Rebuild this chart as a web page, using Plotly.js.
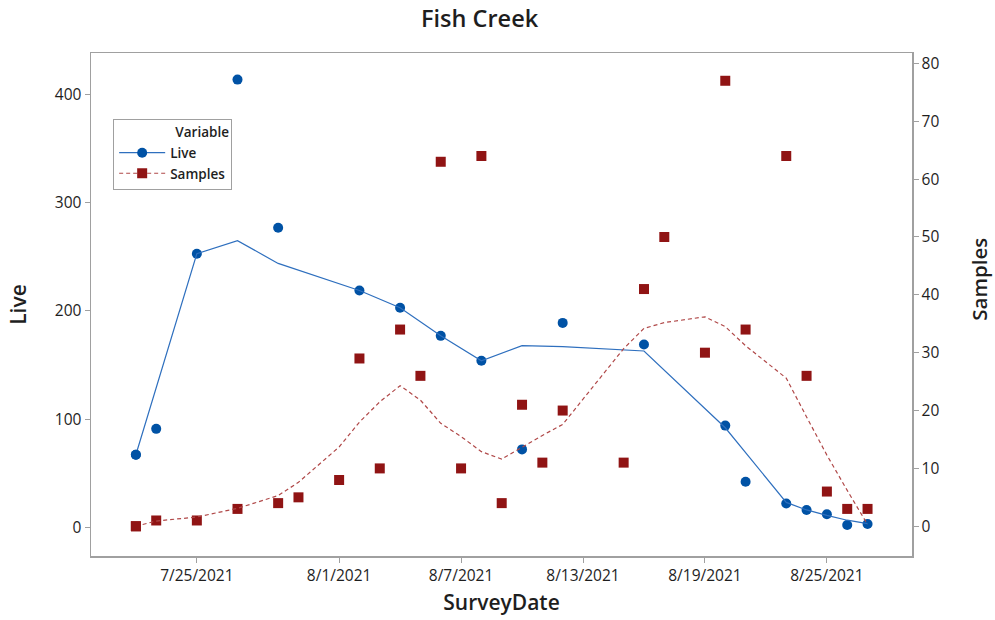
<!DOCTYPE html>
<html>
<head>
<meta charset="utf-8">
<script src="https://cdn.plot.ly/plotly-3.0.1.min.js"></script>
<style>html,body{margin:0;padding:0;background:#fff;}#chart{width:995px;height:620px;}</style>
</head>
<body>
<div id="chart"></div>
<script>
// ---- data ----
const liveDates = ['2021-07-22','2021-07-23','2021-07-25','2021-07-27','2021-07-29','2021-08-02','2021-08-04','2021-08-06','2021-08-08','2021-08-10','2021-08-12','2021-08-16','2021-08-20','2021-08-21','2021-08-23','2021-08-24','2021-08-25','2021-08-26','2021-08-27'];
const liveValues = [67, 91, 253, 414, 277, 219, 203, 177, 154, 72, 189, 169, 94, 42, 22, 16, 12, 2, 3];
const liveFitDates = ['2021-07-22','2021-07-25','2021-07-27','2021-07-29','2021-08-02','2021-08-04','2021-08-06','2021-08-08','2021-08-10','2021-08-12','2021-08-16','2021-08-20','2021-08-23','2021-08-24','2021-08-25','2021-08-26','2021-08-27'];
const liveFit = [67, 253, 265, 244, 219, 203, 177, 154, 168, 167, 163, 92, 23, 16, 11, 6.5, 3.4];

const sampleDates = ['2021-07-22','2021-07-23','2021-07-25','2021-07-27','2021-07-29','2021-07-30','2021-08-01','2021-08-02','2021-08-03','2021-08-04','2021-08-05','2021-08-06','2021-08-07','2021-08-08','2021-08-09','2021-08-10','2021-08-11','2021-08-12','2021-08-15','2021-08-16','2021-08-17','2021-08-19','2021-08-20','2021-08-21','2021-08-23','2021-08-24','2021-08-25','2021-08-26','2021-08-27'];
const sampleValues = [0, 1, 1, 3, 4, 5, 8, 29, 10, 34, 26, 63, 10, 64, 4, 21, 11, 20, 11, 41, 50, 30, 77, 34, 64, 26, 6, 3, 3];
const sampleFit = [0, 0.9, 1.6, 3.1, 5.3, 7.6, 13.7, 18.0, 21.5, 24.3, 21.8, 17.8, 15.5, 12.9, 11.6, 13.7, 15.7, 17.6, 30.7, 34.2, 35.2, 36.2, 34.5, 31.2, 25.6, 18.9, 12.3, 6.2, 0.3];

const tickDates = ['2021-07-25','2021-08-01','2021-08-07','2021-08-13','2021-08-19','2021-08-25'];
const tickLabels = ['7/25/2021','8/1/2021','8/7/2021','8/13/2021','8/19/2021','8/25/2021'];
const liveTicks = [0, 100, 200, 300, 400];
const sampleTicks = [0, 10, 20, 30, 40, 50, 60, 70, 80];

// ---- styles ----
const BLUE = '#0052a5';
const RED = '#901414';
const FONT = 'Open Sans, Noto Sans, sans-serif';
const TXT = '#1e1e1e';

const traces = [
  { // Live points
    x: liveDates, y: liveValues, type: 'scatter', mode: 'markers', yaxis: 'y',
    marker: {symbol: 'circle', size: 10, color: BLUE}, showlegend: false, hoverinfo: 'x+y'
  },
  { // Samples points
    x: sampleDates, y: sampleValues, type: 'scatter', mode: 'markers', yaxis: 'y2',
    marker: {symbol: 'square', size: 10, color: RED}, showlegend: false, hoverinfo: 'x+y'
  },
  { // Live smoother
    x: liveFitDates, y: liveFit, type: 'scatter', mode: 'lines+markers', yaxis: 'y', name: 'Live',
    line: {color: '#2e6fbe', width: 1.2},
    marker: {symbol: 'circle', size: 10, color: liveFit.map((v, i) => i === 0 ? BLUE : 'rgba(0,0,0,0)')},
    hoverinfo: 'skip'
  },
  { // Samples smoother
    x: sampleDates, y: sampleFit, type: 'scatter', mode: 'lines+markers', yaxis: 'y2', name: 'Samples',
    line: {color: '#b04848', width: 1.2, dash: '4px,3px'},
    marker: {symbol: 'square', size: 10, color: sampleFit.map((v, i) => i === 0 ? RED : 'rgba(0,0,0,0)')},
    hoverinfo: 'skip'
  }
];

const axisCommon = {
  showgrid: false, zeroline: false, showline: true, linecolor: '#a0a0a0', linewidth: 1.5,
  ticks: 'outside', ticklen: 5, tickwidth: 1, tickcolor: '#a0a0a0',
  tickfont: {family: FONT, size: 15.5, color: TXT}
};

const layout = {
  width: 995, height: 620,
  margin: {l: 91, r: 83, t: 53, b: 64},
  paper_bgcolor: '#ffffff', plot_bgcolor: '#ffffff',
  font: {family: FONT, color: TXT},
  title: {text: 'Fish Creek', x: 0.482, xref: 'container', xanchor: 'center', y: 0.97, yref: 'container', yanchor: 'middle',
          font: {family: FONT, size: 23.5, weight: 600, color: TXT}},
  xaxis: Object.assign({}, axisCommon, {
    type: 'date', range: ['2021-07-19 19:00', '2021-08-29 04:30'],
    tickmode: 'array', tickvals: tickDates, ticktext: tickLabels, mirror: true,
    title: {text: 'SurveyDate', font: {family: FONT, size: 21, weight: 600, color: TXT}, standoff: 10}
  }),
  yaxis: Object.assign({}, axisCommon, {
    range: [-26.6, 438.6], tickmode: 'array', tickvals: liveTicks, mirror: false,
    title: {text: 'Live', font: {family: FONT, size: 21, weight: 600, color: TXT}, standoff: 22}
  }),
  yaxis2: Object.assign({}, axisCommon, {
    overlaying: 'y', side: 'right', range: [-5.14, 81.8], tickmode: 'array', tickvals: sampleTicks
  }),
  annotations: [
    {text: 'Samples', xref: 'paper', yref: 'paper', x: 1.082, y: 0.55, xanchor: 'center', yanchor: 'middle',
     textangle: -90, showarrow: false, font: {family: FONT, size: 20.5, weight: 600, color: TXT}}
  ],
  showlegend: true,
  legend: {
    x: 0.027, y: 0.869, xanchor: 'left', yanchor: 'top',
    bgcolor: '#ffffff', bordercolor: '#a0a0a0', borderwidth: 1,
    font: {family: FONT, size: 13.5, weight: 600, color: TXT},
    title: {text: 'Variable', side: 'top right', font: {family: FONT, size: 13.5, weight: 600, color: TXT}},
    itemwidth: 46, tracegroupgap: 0
  }
};

Plotly.newPlot('chart', traces, layout, {displayModeBar: false, staticPlot: true});
</script>
</body>
</html>
